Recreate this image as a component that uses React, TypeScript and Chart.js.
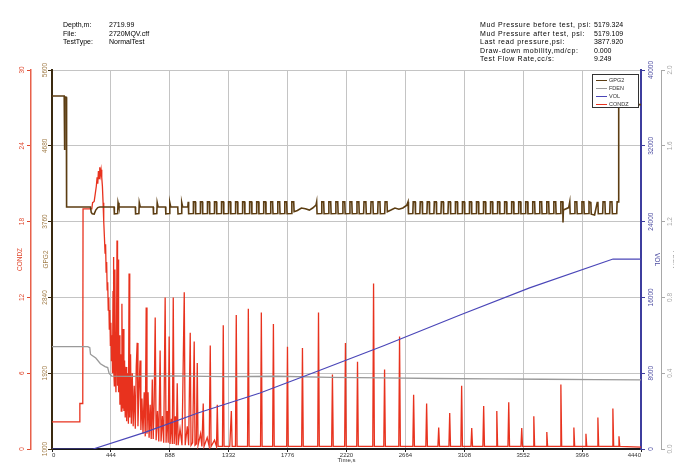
import React, { useEffect, useRef } from "react";
import { Chart, registerables } from "chart.js";

Chart.register(...registerables);

const FONT = '"Liberation Sans", Arial, sans-serif';

// ---- tick labels ----
const xTicks = [0, 444, 888, 1332, 1776, 2220, 2664, 3108, 3552, 3996, 4440];
const condzTicks = [0, 6, 12, 18, 24, 30];
const gpg2Ticks = [1000, 1920, 2840, 3760, 4680, 5600];
const volTicks = [0, 8000, 16000, 24000, 32000, 40000];
const fdenTicks = [0, 0.4, 0.8, 1.2, 1.6, 2.0];

// ---- header texts ----
const headerLeftLabels = ["Depth,m:", "File:", "TestType:"];
const headerLeftValues = ["2719.99", "2720MQV.cff", "NormalTest"];
const headerRightLabels = [
  "Mud Pressure before test, psi:",
  "Mud Pressure after test, psi:",
  "Last read pressure,psi:",
  "Draw-down mobility,md/cp:",
  "Test Flow Rate,cc/s:",
];
const headerRightValues = ["5179.324", "5179.109", "3877.920", "0.000", "9.249"];

// ---- legend ----
const legendNames = ["GPG2", "FDEN", "VOL", "CONDZ"];
const legendColors = ["#5c3d12", "#9a9a9a", "#4a46b8", "#e8321e"];

// ---- series: [time s, value] ----
const gpg2Points: [number, number][] = [
  [0, 5285], [92, 5285], [94, 4630], [97, 5270], [108, 5270], [110, 3937],
  [290, 3937], [296, 3870], [303, 3855], [318, 3852], [330, 3900], [345, 3930], [360, 3937],
  [468, 3937], [470, 3855], [495, 3858], [498, 3990], [505, 3937],
  [628, 3937], [630, 3855], [655, 3858], [658, 3990], [665, 3937],
  [763, 3937], [765, 3855], [790, 3858], [793, 3990], [800, 3937],
  [856, 3937], [858, 3855], [885, 3858], [888, 3990], [895, 3937],
  [948, 3937], [950, 3855], [975, 3858], [978, 3990], [985, 3937], [1024, 3937],
  [1027, 4000], [1030, 3855], [1063, 3858], [1066, 4000],
  [1080, 4000], [1083, 3855], [1116, 3858], [1119, 4000],
  [1133, 4000], [1136, 3855], [1169, 3858], [1172, 4000],
  [1186, 4000], [1189, 3855], [1222, 3858], [1225, 4000],
  [1239, 4000], [1242, 3855], [1275, 3858], [1278, 4000],
  [1292, 4000], [1295, 3855], [1328, 3858], [1331, 4000],
  [1345, 4000], [1348, 3855], [1381, 3858], [1384, 4000],
  [1398, 4000], [1401, 3855], [1434, 3858], [1437, 4000],
  [1451, 4000], [1454, 3855], [1487, 3858], [1490, 4000],
  [1504, 4000], [1507, 3855], [1540, 3858], [1543, 4000],
  [1557, 4000], [1560, 3855], [1593, 3858], [1596, 4000],
  [1610, 4000], [1613, 3855], [1646, 3858], [1649, 4000],
  [1663, 4000], [1666, 3855], [1699, 3858], [1702, 4000],
  [1716, 4000], [1719, 3855], [1752, 3858], [1755, 4000],
  [1769, 4000], [1772, 3855], [1805, 3858], [1808, 4000],
  [1822, 4000], [1825, 3880],
  [1850, 3895], [1880, 3925], [1910, 3915], [1940, 3900], [1965, 3925], [1990, 3960],
  [1995, 4000], [1998, 3855], [2031, 3858], [2034, 4000],
  [2048, 4000], [2051, 3855], [2084, 3858], [2087, 4000],
  [2101, 4000], [2104, 3855], [2137, 3858], [2140, 4000],
  [2154, 4000], [2157, 3855], [2190, 3858], [2193, 4000],
  [2207, 4000], [2210, 3855], [2243, 3858], [2246, 4000],
  [2260, 4000], [2263, 3855], [2296, 3858], [2299, 4000],
  [2313, 4000], [2316, 3855], [2349, 3858], [2352, 4000],
  [2366, 4000], [2369, 3855], [2402, 3858], [2405, 4000],
  [2419, 4000], [2422, 3855], [2455, 3858], [2458, 4000],
  [2472, 4000], [2475, 3855], [2508, 3858], [2511, 4000],
  [2525, 4000], [2528, 3880],
  [2555, 3900], [2585, 3925], [2615, 3910], [2645, 3925], [2675, 3960],
  [2684, 4000], [2687, 3855], [2720, 3858], [2723, 4000],
  [2737, 4000], [2740, 3855], [2773, 3858], [2776, 4000],
  [2790, 4000], [2793, 3855], [2826, 3858], [2829, 4000],
  [2843, 4000], [2846, 3855], [2879, 3858], [2882, 4000],
  [2896, 4000], [2899, 3855], [2932, 3858], [2935, 4000],
  [2949, 4000], [2952, 3855], [2985, 3858], [2988, 4000],
  [3002, 4000], [3005, 3855], [3038, 3858], [3041, 4000],
  [3055, 4000], [3058, 3855], [3091, 3858], [3094, 4000],
  [3108, 4000], [3111, 3855], [3144, 3858], [3147, 4000],
  [3161, 4000], [3164, 3855], [3197, 3858], [3200, 4000],
  [3214, 4000], [3217, 3855], [3250, 3858], [3253, 4000],
  [3267, 4000], [3270, 3855], [3303, 3858], [3306, 4000],
  [3320, 4000], [3323, 3855], [3356, 3858], [3359, 4000],
  [3373, 4000], [3376, 3855], [3409, 3858], [3412, 4000],
  [3426, 4000], [3429, 3855], [3462, 3858], [3465, 4000],
  [3479, 4000], [3482, 3855], [3515, 3858], [3518, 4000],
  [3532, 4000], [3535, 3855], [3568, 3858], [3571, 4000],
  [3585, 4000], [3588, 3855], [3621, 3858], [3624, 4000],
  [3638, 4000], [3641, 3855], [3674, 3858], [3677, 4000],
  [3691, 4000], [3694, 3855], [3727, 3858], [3730, 4000],
  [3744, 4000], [3747, 3855], [3780, 3858], [3783, 4000],
  [3797, 4000], [3800, 3855], [3833, 3858], [3836, 4000],
  [3850, 4000], [3852, 3750], [3855, 3900], [3895, 3930],
  [3903, 4000], [3906, 3855], [3939, 3858], [3942, 4000],
  [3956, 4000], [3959, 3855], [3992, 3858], [3995, 4000],
  [4009, 4000], [4012, 3855], [4045, 3858], [4048, 4000],
  [4062, 3990], [4065, 3850], [4090, 3840], [4110, 3990],
  [4115, 4000], [4118, 3855], [4151, 3858], [4154, 4000],
  [4168, 4000], [4171, 3855], [4204, 3858], [4207, 4000],
  [4221, 4000], [4224, 3855], [4257, 3858], [4260, 4000],
  [4268, 4000], [4272, 5180], [4440, 5180],
];

const volPoints: [number, number][] = [
  [0, 0], [310, 0], [700, 1750], [1100, 3800], [1568, 5910], [2000, 8200],
  [2500, 10900], [3076, 14140], [3600, 17000], [4229, 20050], [4440, 20050],
];

const fdenPoints: [number, number][] = [
  [0, 0.54], [270, 0.54], [285, 0.535], [290, 0.5], [300, 0.495], [330, 0.48],
  [365, 0.45], [400, 0.435], [420, 0.43], [430, 0.4], [450, 0.385], [600, 0.383],
  [900, 0.386], [1300, 0.382], [1700, 0.384], [2100, 0.378], [2500, 0.375],
  [2900, 0.372], [3300, 0.37], [3700, 0.368], [4100, 0.366], [4440, 0.365],
];

const condzPoints: [number, number][] = [
  [0, 2.15], [208, 2.15], [210, 3.6], [232, 3.6], [234, 19.0], [300, 19.0], [306, 19.5],
  [318, 19.6], [326, 20.2], [334, 20.8], [340, 21.5], [345, 21.0], [350, 22.0], [355, 21.4],
  [360, 22.3], [365, 21.7], [370, 22.1], [375, 21.5], [380, 20.8], [385, 19.5], [390, 18.0],
  [395, 16.8], [400, 15.5], [404, 16.2], [408, 14.0], [412, 14.8], [416, 12.6], [420, 13.2],
  [424, 11.0], [428, 12.0], [432, 9.5], [436, 11.0], [440, 8.2], [444, 10.0], [448, 7.0],
  [452, 9.0], [456, 6.0], [460, 12.5], [463, 15.2], [466, 6.5], [470, 5.0], [474, 14.2],
  [478, 6.0], [482, 4.5], [486, 8.5], [490, 16.5], [494, 5.0], [498, 15.0], [502, 4.5],
  [507, 9.0], [512, 3.5], [517, 7.5], [522, 3.0], [527, 11.5], [532, 3.2], [537, 9.5],
  [542, 3.0], [547, 7.0], [552, 2.5], [558, 6.5], [563, 2.2], [570, 6.0], [576, 2.0],
  [581, 13.9], [586, 2.5], [592, 7.5], [598, 2.0], [605, 6.0], [612, 1.8], [620, 5.0],
  [628, 1.6], [635, 6.5], [642, 8.4], [648, 1.8], [655, 4.5], [664, 7.0], [670, 1.5],
  [678, 4.0], [686, 1.2], [695, 4.5], [703, 1.0], [710, 11.2], [716, 1.2], [724, 4.5],
  [732, 0.9], [740, 3.5], [748, 0.8], [756, 5.5], [763, 0.8], [770, 3.5], [778, 10.4],
  [785, 0.7], [795, 3.0], [805, 0.6], [815, 7.8], [822, 0.6], [832, 2.6], [842, 0.5],
  [853, 12.0], [860, 0.5], [868, 3.0], [876, 0.5], [883, 8.9], [890, 0.4], [900, 2.4],
  [907, 0.4], [914, 12.0], [921, 0.4], [930, 2.6], [937, 0.3], [944, 5.2], [951, 0.3],
  [965, 1.6], [980, 0.3], [997, 12.4], [1004, 0.3], [1020, 1.8], [1030, 0.3], [1042, 9.2],
  [1048, 0.3], [1060, 0.5], [1072, 8.5], [1078, 0.3], [1088, 0.4], [1095, 6.8], [1101, 0.3],
  [1120, 1.2], [1130, 0.2], [1140, 3.6], [1146, 0.2], [1170, 0.9], [1185, 0.2], [1193, 8.2],
  [1199, 0.2], [1225, 0.7], [1240, 0.2], [1246, 3.5], [1252, 0.2], [1285, 0.2], [1291, 9.8],
  [1297, 0.2], [1340, 0.2], [1352, 3.0], [1358, 0.2], [1383, 0.2], [1389, 10.6], [1395, 0.2],
  [1474, 0.2], [1480, 11.1], [1486, 0.2],
  [1572, 0.2], [1578, 10.8], [1584, 0.2],
  [1663, 0.2], [1669, 9.9], [1675, 0.2],
  [1769, 0.2], [1775, 8.1], [1781, 0.2],
  [1882, 0.2], [1888, 8.0], [1894, 0.2],
  [2003, 0.2], [2009, 10.8], [2015, 0.2],
  [2108, 0.2], [2114, 5.9], [2120, 0.2],
  [2206, 0.2], [2212, 8.4], [2218, 0.2],
  [2297, 0.2], [2303, 6.9], [2309, 0.2],
  [2418, 0.2], [2424, 13.1], [2430, 0.2],
  [2501, 0.2], [2507, 6.3], [2513, 0.2],
  [2614, 0.2], [2620, 8.9], [2626, 0.2],
  [2720, 0.2], [2726, 4.3], [2732, 0.2],
  [2818, 0.2], [2824, 3.6], [2830, 0.2],
  [2909, 0.2], [2915, 1.7], [2921, 0.2],
  [2992, 0.2], [2998, 2.85], [3004, 0.2],
  [3082, 0.2], [3088, 5.0], [3094, 0.2],
  [3158, 0.2], [3164, 1.66], [3170, 0.2],
  [3248, 0.2], [3254, 3.4], [3260, 0.2],
  [3347, 0.2], [3353, 3.0], [3359, 0.2],
  [3437, 0.2], [3443, 3.7], [3449, 0.2],
  [3535, 0.2], [3541, 1.66], [3547, 0.2],
  [3626, 0.2], [3632, 2.6], [3638, 0.2],
  [3724, 0.2], [3730, 1.35], [3736, 0.2],
  [3830, 0.2], [3836, 5.1], [3842, 0.2],
  [3928, 0.2], [3934, 1.7], [3940, 0.2],
  [4019, 0.2], [4025, 1.2], [4031, 0.2],
  [4109, 0.2], [4115, 2.5], [4121, 0.2],
  [4222, 0.2], [4228, 3.2], [4234, 0.2],
  [4268, 0.2], [4274, 1.0], [4280, 0.2],
  [4440, 0.15],
];

const toXY = (pts: [number, number][]) => pts.map(([x, y]) => ({ x, y }));
const setTicks = (vals: number[]) => (s: any) => {
  s.ticks = vals.map((v) => ({ value: v }));
};
const GRID = "#c4c4c4";

export default function App() {
  const canvasRef = useRef<HTMLCanvasElement | null>(null);

  useEffect(() => {
    if (!canvasRef.current) return;
    const chart = new Chart(canvasRef.current, {
      type: "line",
      data: {
        datasets: [
          {
            label: "GPG2", data: toXY(gpg2Points), yAxisID: "gpg2",
            borderColor: "#5c3d12", borderWidth: 1.6, pointRadius: 0, tension: 0,
          },
          {
            label: "VOL", data: toXY(volPoints), yAxisID: "vol",
            borderColor: "#4a46b8", borderWidth: 1.2, pointRadius: 0, tension: 0,
          },
          {
            label: "FDEN", data: toXY(fdenPoints), yAxisID: "fden",
            borderColor: "#9a9a9a", borderWidth: 1.3, pointRadius: 0, tension: 0,
          },
          {
            label: "CONDZ", data: toXY(condzPoints), yAxisID: "condz",
            borderColor: "#e8321e", borderWidth: 1.3, pointRadius: 0, tension: 0,
          },
        ],
      },
      options: {
        animation: false,
        responsive: false,
        devicePixelRatio: 1,
        events: [],
        layout: { padding: { top: 70, left: 0, right: 0, bottom: 0 } },
        plugins: { legend: { display: false }, tooltip: { enabled: false } },
        scales: {
          x: {
            type: "linear", position: "bottom", min: 0, max: 4440,
            afterBuildTicks: setTicks(xTicks),
            afterFit: (s: any) => { s.height = 15; },
            ticks: {
              autoSkip: false, maxRotation: 0, minRotation: 0, padding: 0, align: "inner",
              color: "#333", font: { family: FONT, size: 6 },
              callback: (v: any) => String(v),
            },
            grid: {
              color: (c: any) => (c.tick && (c.tick.value === 0 || c.tick.value === 4440) ? "rgba(0,0,0,0)" : GRID),
              lineWidth: 1, tickLength: 3, tickColor: "#222",
            },
            border: { color: "#1a1a1a", width: 2 },
            title: { display: true, text: "Time,s", color: "#333", font: { family: FONT, size: 6 }, padding: { top: 0, bottom: 0 } },
          },
          condz: {
            type: "linear", position: "left", weight: 2, min: 0, max: 30,
            afterBuildTicks: setTicks(condzTicks),
            afterFit: (s: any) => { s.width = 31; },
            ticks: {
              autoSkip: false, minRotation: 90, maxRotation: 90, crossAlign: "center", padding: 1,
              color: "#e04a30", font: { family: FONT, size: 6.5 },
              callback: (v: any) => String(v),
            },
            grid: { drawOnChartArea: false, tickLength: 4, tickColor: "#e04a30" },
            border: { color: "#e8604a", width: 1.5 },
            title: { display: true, text: "CONDZ", color: "#e04a30", font: { family: FONT, size: 6.5 }, padding: { top: 16, bottom: 0 } },
          },
          gpg2: {
            type: "linear", position: "left", weight: 1, min: 1000, max: 5600,
            afterBuildTicks: setTicks(gpg2Ticks),
            afterFit: (s: any) => { s.width = 21; },
            ticks: {
              autoSkip: false, minRotation: 90, maxRotation: 90, crossAlign: "center", padding: -4.2,
              color: "#a07c48", font: { family: FONT, size: 6.5 },
              callback: (v: any) => String(v),
            },
            grid: {
              color: (c: any) => (c.tick && c.tick.value === 1000 ? "rgba(0,0,0,0)" : GRID),
              lineWidth: 1, tickLength: 4, tickColor: "#3a2a10",
            },
            border: { color: "#3a2a10", width: 2 },
            title: { display: true, text: "GPG2", color: "#a07c48", font: { family: FONT, size: 6.5 }, padding: { top: 11, bottom: 0 } },
          },
          vol: {
            type: "linear", position: "right", weight: 1, min: 0, max: 40000,
            afterBuildTicks: setTicks(volTicks),
            afterFit: (s: any) => { s.width = 20; },
            ticks: {
              autoSkip: false, minRotation: 90, maxRotation: 90, crossAlign: "center", padding: -2.5,
              color: "#4a4aa0", font: { family: FONT, size: 6.5 },
              callback: (v: any) => String(v),
            },
            grid: { drawOnChartArea: false, tickLength: 4, tickColor: "#3d3d9e" },
            border: { color: "#3d3d9e", width: 2 },
            title: { display: true, text: "VOL", color: "#4a4aa0", font: { family: FONT, size: 6.5 }, padding: { top: 0, bottom: 0 } },
          },
          fden: {
            type: "linear", position: "right", weight: 2, min: 0, max: 2,
            afterBuildTicks: setTicks(fdenTicks),
            afterFit: (s: any) => { s.width = 23; },
            ticks: {
              autoSkip: false, minRotation: 90, maxRotation: 90, crossAlign: "center", padding: 0.5,
              color: "#a8a8a8", font: { family: FONT, size: 6.5 },
              callback: (v: any) => Number(v).toFixed(1),
            },
            grid: { drawOnChartArea: false, tickLength: 4, tickColor: "#a8a8a8" },
            border: { color: "#a8a8a8", width: 1 },
            title: { display: true, text: "FDEN", color: "#a8a8a8", font: { family: FONT, size: 6.5 }, padding: { top: 5, bottom: 0 } },
          },
        },
      } as any,
    });
    return () => chart.destroy();
  }, []);

  const headerStyle: React.CSSProperties = {
    position: "absolute", fontFamily: FONT, fontSize: 7, lineHeight: "8.5px",
    color: "#000", whiteSpace: "nowrap",
  };

  return (
    <div style={{ position: "fixed", left: 0, top: 0, width: 674, height: 464, overflow: "hidden", background: "#fff" }}>
      <canvas ref={canvasRef} width={684} height={464} style={{ display: "block", width: 684, height: 464 }} />
      <div style={{ ...headerStyle, left: 63, top: 21 }}>
        {headerLeftLabels.map((t) => <div key={t}>{t}</div>)}
      </div>
      <div style={{ ...headerStyle, left: 109, top: 21 }}>
        {headerLeftValues.map((t) => <div key={t}>{t}</div>)}
      </div>
      <div style={{ ...headerStyle, left: 480, top: 21, letterSpacing: 0.6 }}>
        {headerRightLabels.map((t) => <div key={t}>{t}</div>)}
      </div>
      <div style={{ ...headerStyle, left: 594, top: 21 }}>
        {headerRightValues.map((t) => <div key={t}>{t}</div>)}
      </div>
      <div style={{ position: "absolute", left: 592, top: 74, width: 45, height: 32, border: "1.5px solid #333", background: "#fff" }}>
        {legendNames.map((n, i) => (
          <div key={n} style={{ position: "absolute", left: 0, top: 1 + i * 8, height: 8, width: 45 }}>
            <div style={{ position: "absolute", left: 3, top: 3.5, width: 11, height: 0, borderTop: `1.5px solid ${legendColors[i]}` }} />
            <div style={{ position: "absolute", left: 16, top: 0, fontFamily: FONT, fontSize: 5.5, lineHeight: "8px", color: "#333" }}>{n}</div>
          </div>
        ))}
      </div>
    </div>
  );
}
